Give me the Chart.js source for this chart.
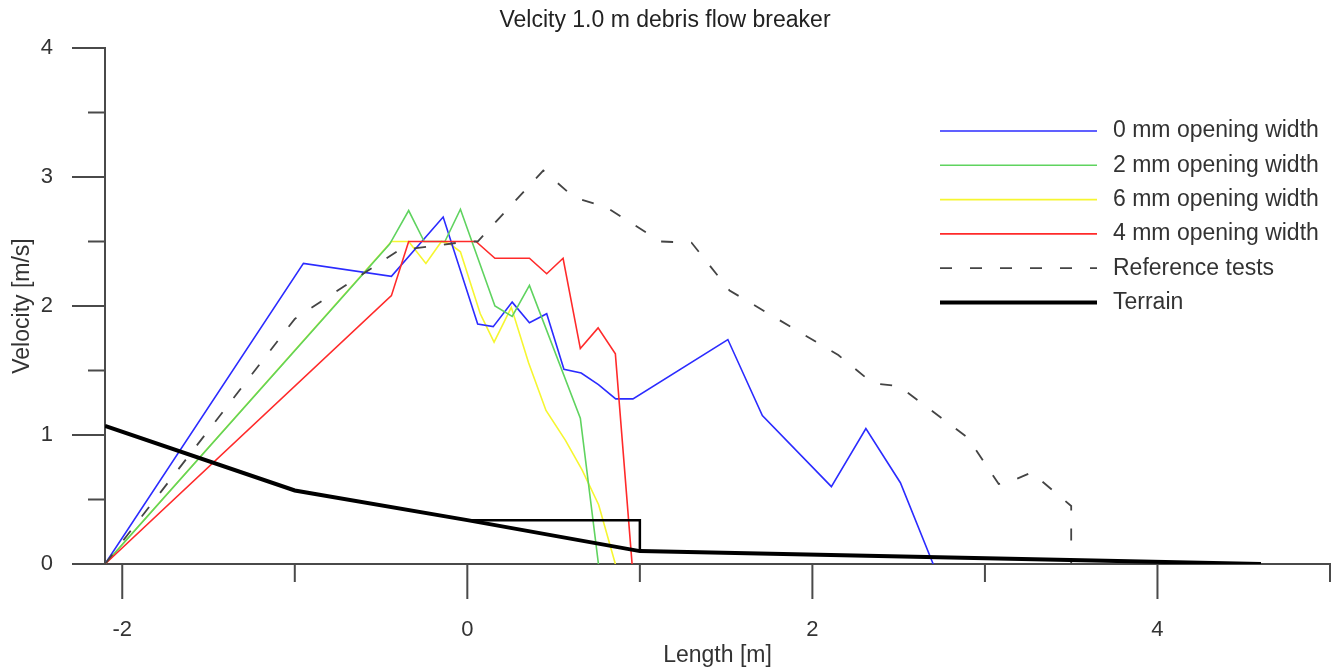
<!DOCTYPE html>
<html>
<head>
<meta charset="utf-8">
<title>Velcity 1.0 m debris flow breaker</title>
<script src="https://cdn.jsdelivr.net/npm/chart.js@4.4.1/dist/chart.umd.min.js"></script>
<style>
  html, body { margin: 0; padding: 0; background: #fff; }
  #wrap { width: 1336px; height: 669px; }
</style>
</head>
<body>
<div id="wrap"><canvas id="chart" width="1336" height="669"></canvas></div>
<script>
// Axis ticks
const xMajorTicks = [-2, 0, 2, 4];
const xMinorTicks = [-1, 1, 3, 5];
const yMajorTicks = [0, 1, 2, 3, 4];
const yMinorTicks = [0.5, 1.5, 2.5, 3.5];

// 0 mm opening width
const mm0X = [-2.1, -0.95, -0.44, -0.14, 0.06, 0.15, 0.26, 0.36, 0.46, 0.56, 0.66, 0.76, 0.86, 0.96, 1.51, 1.71, 2.11, 2.31, 2.51, 2.70];
const mm0Y = [0, 2.33, 2.23, 2.69, 1.86, 1.84, 2.03, 1.87, 1.94, 1.51, 1.48, 1.39, 1.28, 1.28, 1.74, 1.15, 0.60, 1.05, 0.63, 0];

// 2 mm opening width
const mm2X = [-2.1, -0.45, -0.34, -0.25, -0.13, -0.04, 0.16, 0.26, 0.36, 0.655, 0.76];
const mm2Y = [0, 2.48, 2.74, 2.5, 2.5, 2.75, 2.0, 1.92, 2.16, 1.13, 0];

// 6 mm opening width
const mm6X = [-2.1, -0.44, -0.34, -0.24, -0.15, -0.1, -0.04, 0.075, 0.155, 0.255, 0.355, 0.456, 0.568, 0.665, 0.761, 0.858];
const mm6Y = [0, 2.5, 2.5, 2.33, 2.5, 2.48, 2.42, 1.94, 1.72, 1.99, 1.56, 1.19, 0.96, 0.73, 0.46, 0];

// 4 mm opening width
const mm4X = [-2.1, -0.44, -0.34, 0.05, 0.16, 0.36, 0.46, 0.555, 0.655, 0.758, 0.858, 0.955];
const mm4Y = [0, 2.08, 2.5, 2.5, 2.37, 2.37, 2.25, 2.37, 1.67, 1.83, 1.63, 0];

// Reference tests
const refX = [-2.1, -1.0, -0.4, 0.0, 0.06, 0.44, 0.62, 0.8, 1.12, 1.3, 1.52, 2.15, 2.35, 2.5, 2.9, 3.08, 3.15, 3.27, 3.5, 3.5];
const refY = [0, 1.9, 2.43, 2.5, 2.5, 3.05, 2.84, 2.77, 2.5, 2.49, 2.12, 1.62, 1.40, 1.38, 0.98, 0.62, 0.64, 0.71, 0.45, 0];

// Terrain and the breaker outline
const terrainX = [-2.1, -1.0, 0.0, 1.0, 4.6];
const terrainY = [1.07, 0.57, 0.34, 0.10, 0];
const breakerX = [0.0, 1.0, 1.0];
const breakerY = [0.34, 0.34, 0.10];

const FONT = "'Liberation Sans', Arial, sans-serif";

function pts(xs, ys) {
    return xs.map((x, i) => ({ x: x, y: ys[i] }));
}

function line(label, xs, ys, color, width, extra) {
    return Object.assign({
        label: label,
        data: pts(xs, ys),
        showLine: true,
        borderColor: color,
        backgroundColor: color,
        borderWidth: width,
        pointRadius: 0,
        tension: 0,
        fill: false
    }, extra || {});
}

// drop the label overflow padding so the plot box stays where it is
function noPad(s) {
    s.paddingTop = 0;
    s.paddingBottom = 0;
    s.paddingLeft = 0;
    s.paddingRight = 0;
}

// minor/major tick marks, drawn outside the plot
const tickMarks = {
    id: 'tickMarks',
    afterDraw(chart) {
        const { ctx, scales: { x, y } } = chart;
        ctx.save();
        ctx.strokeStyle = '#4a4a4a';
        ctx.lineWidth = 2;
        ctx.beginPath();
        xMajorTicks.forEach(v => { const p = x.getPixelForValue(v); ctx.moveTo(p, x.top); ctx.lineTo(p, x.top + 35); });
        xMinorTicks.forEach(v => { const p = x.getPixelForValue(v); ctx.moveTo(p, x.top); ctx.lineTo(p, x.top + 18); });
        yMajorTicks.forEach(v => { const p = y.getPixelForValue(v); ctx.moveTo(y.right, p); ctx.lineTo(y.right - 33, p); });
        yMinorTicks.forEach(v => { const p = y.getPixelForValue(v); ctx.moveTo(y.right, p); ctx.lineTo(y.right - 17, p); });
        ctx.stroke();
        ctx.restore();
    }
};

// legend inside the plot, upper right
const legendBox = {
    id: 'legendBox',
    afterDraw(chart) {
        const ctx = chart.ctx;
        chart.data.datasets.filter(d => d.label).forEach((d, i) => {
            const yy = 131 + i * 34.3;
            ctx.save();
            ctx.strokeStyle = d.borderColor;
            ctx.lineWidth = d.borderWidth;
            ctx.setLineDash(d.borderDash || []);
            ctx.beginPath();
            ctx.moveTo(940, yy);
            ctx.lineTo(1097, yy);
            ctx.stroke();
            ctx.setLineDash([]);
            ctx.fillStyle = '#333';
            ctx.font = '23px ' + FONT;
            ctx.textBaseline = 'middle';
            ctx.fillText(d.label, 1113, yy);
            ctx.restore();
        });
    }
};

new Chart(document.getElementById('chart'), {
    type: 'scatter',
    data: {
        datasets: [
            line('0 mm opening width', mm0X, mm0Y, '#2b2bff', 1.6, { order: 5 }),
            line('2 mm opening width', mm2X, mm2Y, '#5fd35f', 1.6, { order: 4 }),
            line('6 mm opening width', mm6X, mm6Y, '#f6f630', 1.6, { order: 6 }),
            line('4 mm opening width', mm4X, mm4Y, '#ff2a2a', 1.6, { order: 3 }),
            line('Reference tests', refX, refY, '#444', 1.8, { order: 2, borderDash: [12, 18] }),
            line('Terrain', terrainX, terrainY, '#000', 4, { order: 0 }),
            line('', breakerX, breakerY, '#000', 2.5, { order: 1 })
        ]
    },
    options: {
        responsive: false,
        animation: false,
        layout: { padding: { left: 0, right: 6, top: 0, bottom: 0 } },
        plugins: {
            legend: { display: false },
            tooltip: { enabled: false },
            title: {
                display: true,
                text: 'Velcity 1.0 m debris flow breaker',
                color: '#222',
                font: { family: FONT, size: 23, weight: 'normal' },
                padding: { top: 7, bottom: 13.4 }
            }
        },
        scales: {
            x: {
                type: 'linear',
                min: -2.1,
                max: 5,
                afterBuildTicks: s => { s.ticks = xMajorTicks.map(v => ({ value: v })); },
                afterFit: s => { s.height = 105; noPad(s); },
                grid: { display: false, drawTicks: false },
                border: { display: true, color: '#4a4a4a', width: 2 },
                ticks: { padding: 53, color: '#333', font: { family: FONT, size: 22 }, maxRotation: 0, callback: v => String(v) },
                title: { display: true, text: 'Length [m]', color: '#333', font: { family: FONT, size: 23 }, padding: { top: 0, bottom: 0 } }
            },
            y: {
                type: 'linear',
                min: 0,
                max: 4,
                afterBuildTicks: s => { s.ticks = yMajorTicks.map(v => ({ value: v })); },
                afterFit: s => { s.width = 105; noPad(s); },
                grid: { display: false, drawTicks: false },
                border: { display: true, color: '#4a4a4a', width: 2 },
                ticks: { padding: 52, color: '#333', font: { family: FONT, size: 22 }, callback: v => String(v) },
                title: { display: true, text: 'Velocity [m/s]', color: '#333', font: { family: FONT, size: 23 }, padding: { top: 9, bottom: 0 } }
            }
        }
    },
    plugins: [tickMarks, legendBox]
});
</script>
</body>
</html>
